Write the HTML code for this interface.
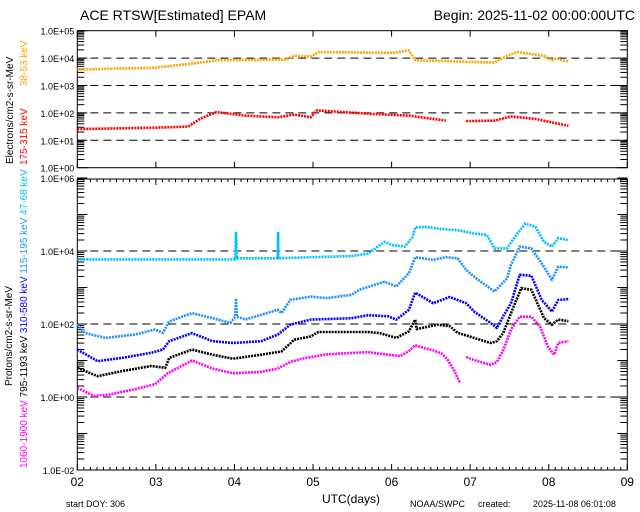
<!DOCTYPE html>
<html><head><meta charset="utf-8"><style>
body{margin:0;background:#fff;}
svg{display:block;font-family:"Liberation Sans",sans-serif;}
</style></head><body>
<svg id="chart" width="640" height="512" viewBox="0 0 640 512" xmlns="http://www.w3.org/2000/svg">
<rect width="640" height="512" fill="#fff"/>
<text x="80" y="20" font-size="14">ACE RTSW[Estimated] EPAM</text>
<text x="635" y="20" font-size="14" text-anchor="end">Begin: 2025-11-02 00:00:00UTC</text>
<g id="top"></g>
<g id="bot"></g>
<text transform="translate(13,164) rotate(-90)" font-size="10">Electrons/cm2-s-sr-MeV</text>
<text transform="translate(27,86) rotate(-90)" font-size="10" fill="#FFA500">38-53 keV</text>
<text transform="translate(27,165) rotate(-90)" font-size="10" fill="#FF0000">175-315 keV</text>
<text transform="translate(12,386) rotate(-90)" font-size="10">Protons/cm2-s-sr-MeV</text>
<text transform="translate(27,468) rotate(-90)" font-size="10"><tspan fill="#FF00FF">1060-1900 keV </tspan><tspan fill="#000">795-1193 keV </tspan><tspan fill="#0000FF">310-580 keV </tspan><tspan fill="#1E90FF">115-195 keV </tspan><tspan fill="#00BFFF">47-68 keV</tspan></text>
<text x="322" y="503" font-size="12">UTC(days)</text>
<text x="66" y="507" font-size="9">start DOY:  306</text>
<text x="410" y="507" font-size="9">NOAA/SWPC</text>
<text x="478" y="507" font-size="9">created:</text>
<text x="533" y="507" font-size="9">2025-11-08 06:01:08</text>
</svg>
<script>
const dayLabels=["02","03","04","05","06","07","08","09"];
const topTicks=["1.0E+00","1.0E+01","1.0E+02","1.0E+03","1.0E+04","1.0E+05"];
const botTicks=["1.0E-02","1.0E+00","1.0E+02","1.0E+04","1.0E+06"];
// electrons (time in days since start, log10 flux)
const e38t=[0,0.99,1.46,1.77,2.66,2.76,2.97,3.07,4.01,4.22,4.30,5.0,5.31,5.47,5.6,5.94,6.04,6.09,6.25];
const e38v=[3.58,3.65,3.8,3.92,3.95,4.08,4.06,4.22,4.19,4.28,3.92,3.86,3.84,4.08,4.22,4.08,3.92,3.98,3.87];
const e175t=[0,0.99,1.41,1.56,1.77,2.14,2.55,2.76,2.97,3.05,3.70,4.22,4.69,4.71,4.95,5.31,5.52,5.83,6.25];
const e175v=[1.41,1.46,1.5,1.78,2.03,1.9,1.84,1.94,1.84,2.09,1.97,1.9,1.72,null,1.7,1.72,1.87,1.78,1.53];
// protons
const p47t=[0,2.01,2.02,2.03,2.55,2.555,2.56,2.97,3.49,3.70,3.91,4.01,4.17,4.27,4.30,4.43,4.64,4.84,5.05,5.21,5.31,5.47,5.57,5.7,5.83,5.94,6.04,6.12,6.25];
const p47v=[3.77,3.77,4.5,3.8,3.8,4.5,3.8,3.83,3.86,3.93,4.25,4.16,4.12,4.39,4.65,4.66,4.6,4.57,4.48,4.44,4.07,4.07,4.39,4.75,4.66,4.25,4.12,4.35,4.3];
const p115t=[0,0.10,0.36,0.73,0.99,1.09,1.17,1.46,1.72,1.95,2.01,2.02,2.03,2.14,2.55,2.6,2.71,2.97,3.18,3.49,3.59,3.91,4.06,4.22,4.30,4.53,4.69,4.84,4.95,5.1,5.31,5.47,5.52,5.63,5.78,5.91,6.04,6.12,6.25];
const p115v=[1.98,1.75,1.62,1.71,1.85,1.76,2.07,2.3,2.16,2.03,2.2,2.7,2.2,2.12,2.39,2.3,2.66,2.75,2.71,2.8,2.94,3.16,3.03,3.39,3.83,3.76,3.83,3.8,3.48,3.21,2.89,3.25,3.62,4.12,4.07,3.66,3.21,3.57,3.55];
const p310t=[0,0.26,0.57,0.94,1.09,1.17,1.46,1.72,1.98,2.34,2.55,2.71,2.97,3.49,3.70,3.96,4.06,4.22,4.30,4.53,4.74,4.95,5.05,5.26,5.34,5.42,5.52,5.63,5.78,5.91,6.04,6.12,6.25];
const p310v=[1.3,0.98,1.07,1.21,1.3,1.53,1.75,1.53,1.48,1.53,1.71,1.98,2.12,2.16,2.24,2.21,2.12,2.39,2.86,2.57,2.74,2.57,2.34,2.03,1.89,2.21,2.57,3.35,3.32,2.66,2.34,2.66,2.68];
const p795t=[0,0.26,0.57,0.94,1.12,1.17,1.46,1.72,1.98,2.34,2.6,2.76,2.97,3.07,3.70,3.85,4.06,4.22,4.30,4.32,4.58,4.74,4.84,5.05,5.26,5.34,5.42,5.52,5.65,5.78,5.94,6.04,6.12,6.25];
const p795v=[0.8,0.57,0.71,0.85,0.8,1.07,1.3,1.16,1.05,1.16,1.25,1.57,1.66,1.78,1.78,1.75,1.62,1.8,2.12,1.86,1.98,1.94,1.76,1.62,1.48,1.53,1.75,2.3,2.98,2.94,2.16,1.98,2.12,2.08];
const p1060t=[0,0.21,0.42,0.73,0.99,1.15,1.46,1.72,1.98,2.34,2.55,2.71,2.86,3.18,3.70,3.91,4.11,4.22,4.30,4.43,4.53,4.64,4.71,4.79,4.87,4.90,4.95,5.05,5.26,5.34,5.42,5.52,5.63,5.78,5.89,5.99,6.07,6.12,6.25];
const p1060v=[0.25,0.03,0.07,0.21,0.35,0.65,1.0,0.78,0.65,0.69,0.78,0.96,1.05,1.17,1.23,1.17,1.12,1.26,1.42,1.33,1.28,1.19,1.03,0.75,0.39,null,1.1,1.01,0.88,0.96,1.28,1.85,2.2,2.2,1.93,1.38,1.16,1.48,1.53];

const NS="http://www.w3.org/2000/svg";
const X0=77.3,X1=627.3,NDAYS=7;
const xs=t=>X0+t*(X1-X0)/NDAYS;
const topY=l=>167.7-27.4*l;
const botY=l=>178+(6-l)*36.5;
function el(parent,tag,attrs){const e=document.createElementNS(NS,tag);for(const k in attrs)e.setAttribute(k,attrs[k]);parent.appendChild(e);return e;}
function panel(g,yt,yb,yf,lmin,lmax,ticks,tickMin,tickStep,name,minorX){
  const r=el(g,'rect',{x:X0,y:yt,width:X1-X0,height:yb-yt,fill:'none',stroke:'#000','stroke-width':1});
  
  
  for(let d=Math.ceil(lmin);d<=lmax;d++){
    for(let m=1;m<10;m++){
      const l=d+Math.log10(m); if(l>lmax+0.001||l<lmin-0.001)continue;
      const y=yf(l); const len=m===1?10:7;
      el(g,'line',{x1:X0,x2:X0+len,y1:y,y2:y,stroke:'#000'});
      el(g,'line',{x1:X1-len,x2:X1,y1:y,y2:y,stroke:'#000'});
    }
  }
  ticks.forEach((s,i)=>{
    const l=tickMin+i*tickStep;
    const t=el(g,'text',{x:X0-3,y:yf(l)+4,'font-size':9,'text-anchor':'end'});
    
    
    t.textContent=s;
    if(i>0&&i<ticks.length-1){
      const dl=el(g,'line',{x1:X0,x2:X1,y1:yf(l),y2:yf(l),stroke:'#000','stroke-dasharray':'8,5'});
      
      
    }
  });
  for(let d=0;d<=NDAYS;d++){
    el(g,'line',{x1:xs(d),x2:xs(d),y1:yb,y2:yb-6,stroke:'#000'});el(g,'line',{x1:xs(d),x2:xs(d),y1:yt,y2:yt+6,stroke:'#000'});
    if(minorX&&d<NDAYS)for(let h=1;h<12;h++){const x=xs(d+h/12);el(g,'line',{x1:x,x2:x,y1:yb,y2:yb-3,stroke:'#000'});el(g,'line',{x1:x,x2:x,y1:yt,y2:yt+3,stroke:'#000'});}
  }
}
function series(g,ts,vs,yf,color,name){
  let segs=[],cur=[];
  ts.forEach((t,i)=>{if(vs[i]===null){if(cur.length)segs.push(cur);cur=[];}else cur.push(xs(t).toFixed(1)+','+yf(vs[i]).toFixed(1));});
  if(cur.length)segs.push(cur);
  segs.forEach(s=>{
    const p=el(g,'polyline',{points:s.join(' '),fill:'none',stroke:color,'stroke-width':2.6,'stroke-dasharray':'2,1','stroke-linejoin':'round'});
    
    
  });
}
const gt=document.getElementById('top'),gb=document.getElementById('bot');
panel(gt,30.7,167.7,topY,0,5,topTicks,0,1,'electron',false);
series(gt,e38t,e38v,topY,'#FFA500','series-38-53kev');
series(gt,e175t,e175v,topY,'#FF0000','series-175-315kev');
panel(gb,179,470,botY,-2,6,botTicks,-2,2,'proton',true);
series(gb,p47t,p47v,botY,'#00BFFF','series-47-68kev');
series(gb,p115t,p115v,botY,'#1E90FF','series-115-195kev');
series(gb,p310t,p310v,botY,'#0000FF','series-310-580kev');
series(gb,p795t,p795v,botY,'#000000','series-795-1193kev');
series(gb,p1060t,p1060v,botY,'#FF00FF','series-1060-1900kev');
dayLabels.forEach((s,i)=>{
  const t=el(gb,'text',{x:xs(i),y:486,'font-size':12,'text-anchor':'middle'});
  
  
  t.textContent=s;
});
</script>
</body></html>
